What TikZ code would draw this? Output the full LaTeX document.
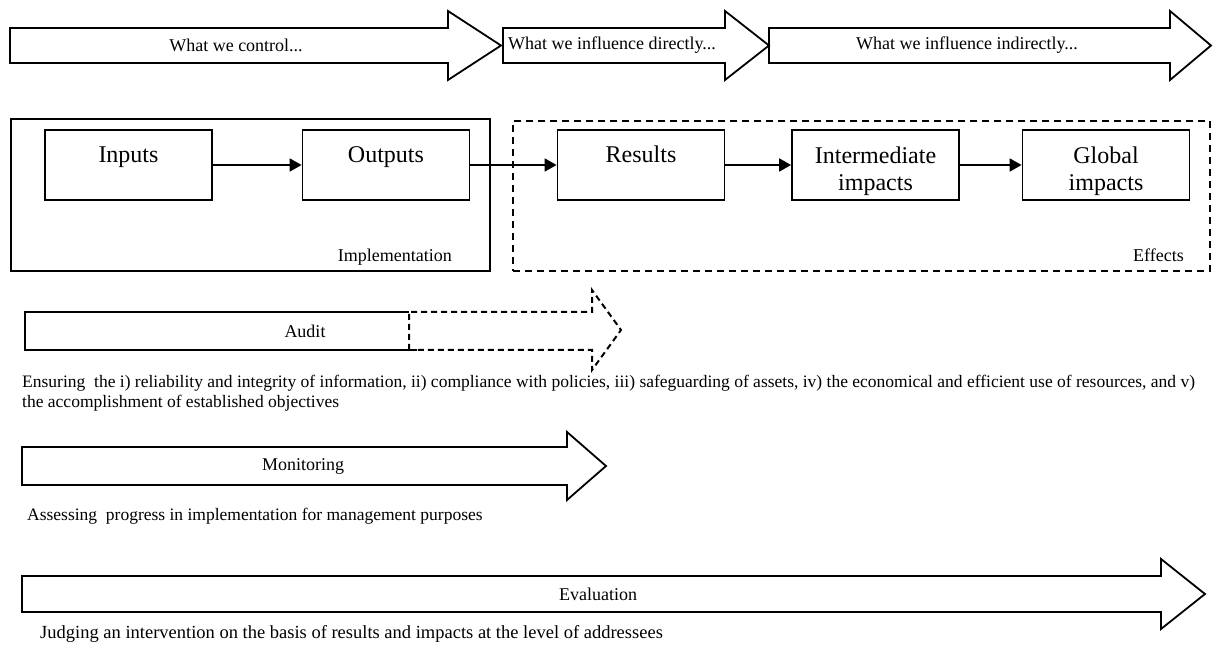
\documentclass[tikz,border=0pt]{standalone}
\usepackage{fontspec}
\setmainfont{Liberation Serif}
\usetikzlibrary{arrows.meta}
\begin{document}
\begin{tikzpicture}[x=1pt,y=-1pt,
  outline/.style={draw=black, line width=1.8pt, line join=miter},
  dashline/.style={draw=black, line width=2pt, dash pattern=on 6pt off 4pt},
  box/.style={draw=black, line width=1.8pt, minimum width=167pt, minimum height=70pt, inner sep=0pt},
  container/.style={draw=black, line width=1.8pt, inner sep=0pt},
  dashbox/.style={draw=black, line width=2.2pt, dash pattern=on 7pt off 5pt, inner sep=0pt},
  small/.style={font=\fontsize{18}{20.7}\selectfont, inner sep=0pt},
  caption/.style={font=\fontsize{17.5}{20.5}\selectfont, inner sep=0pt},
  big/.style={font=\fontsize{24}{27.6}\selectfont, inner sep=0pt, align=center},
  conn/.style={line width=1.8pt, -{Triangle[length=12pt,width=13pt]}},
]
\useasboundingbox (0,0) rectangle (1213,660);

% top arrows
\draw[outline] (10,28) -- (448,28) -- (448,11) -- (501,45.5) -- (448,80) -- (448,63) -- (10,63) -- cycle;
\node[small] (control) at (236,45.5) {What we control...};
\draw[outline] (503,28) -- (725,28) -- (725,11) -- (769,45.5) -- (725,80) -- (725,63) -- (503,63) -- cycle;
\node[small] (direct) at (612,45.5) {What we influence directly...};
\draw[outline] (769,28) -- (1170,28) -- (1170,11) -- (1211,45.5) -- (1170,80) -- (1170,63) -- (769,63) -- cycle;
\node[small] (indirect) at (967,45.5) {What we influence indirectly...};

% containers
\node[container, minimum width=479pt, minimum height=152pt] (impl) at (250.35,195) {};
\node[small, anchor=base east] (implL) at (452,262) {Implementation};
\node[dashbox, minimum width=697pt, minimum height=150pt] (eff) at (861.5,196) {};
\node[small, anchor=base east] (effL) at (1184,262) {Effects};

% boxes
\node[box] (inputs) at (128.5,165) {};
\node[box] (outputs) at (386,165) {};
\node[box] (results) at (641,165) {};
\node[box] (inter) at (875.5,165) {};
\node[box] (global) at (1106,165) {};
\node[big, anchor=base] (inputsL) at (128.5,163) {Inputs};
\node[big, anchor=base] (outputsL) at (386,163) {Outputs};
\node[big, anchor=base] (resultsL) at (641,163) {Results};
\node[big, anchor=north] (interL) at (875.5,146.5) {Intermediate\\impacts};
\node[big, anchor=north] (globalL) at (1106,146.5) {Global\\impacts};

\draw[conn] (inputs) -- (outputs);
\draw[conn] (outputs) -- (results);
\draw[conn] (results) -- (inter);
\draw[conn] (inter) -- (global);

% audit
\draw[outline] (409,312) -- (25,312) -- (25,350) -- (417,350);
\draw[dashline] (409,350) -- (409,312) -- (592,312) -- (592,290) -- (621,330) -- (592,370) -- (592,350) -- (417,350);
\node[small] (audit) at (305,331) {Audit};
\node[caption, anchor=north west, align=left] (auditcap) at (22,374.5) {Ensuring~ the i) reliability and integrity of information, ii) compliance with policies, iii) safeguarding of assets, iv) the economical and efficient use of resources, and v)\\the accomplishment of established objectives};

% monitoring
\draw[outline] (22,447) -- (567,447) -- (567,432) -- (606,466) -- (567,500) -- (567,485) -- (22,485) -- cycle;
\node[small] (monitoring) at (303,466) {Monitoring};
\node[caption, anchor=base west] (moncap) at (27,520) {Assessing~ progress in implementation for management purposes};

% evaluation
\draw[outline] (22,576) -- (1161,576) -- (1161,559) -- (1205,594) -- (1161,629) -- (1161,612) -- (22,612) -- cycle;
\node[small] (evaluation) at (598,594) {Evaluation};
\node[small, font=\fontsize{18.5}{21}\selectfont, anchor=base west] (evalcap) at (40,638) {Judging an intervention on the basis of results and impacts at the level of addressees};
\end{tikzpicture}
\end{document}
